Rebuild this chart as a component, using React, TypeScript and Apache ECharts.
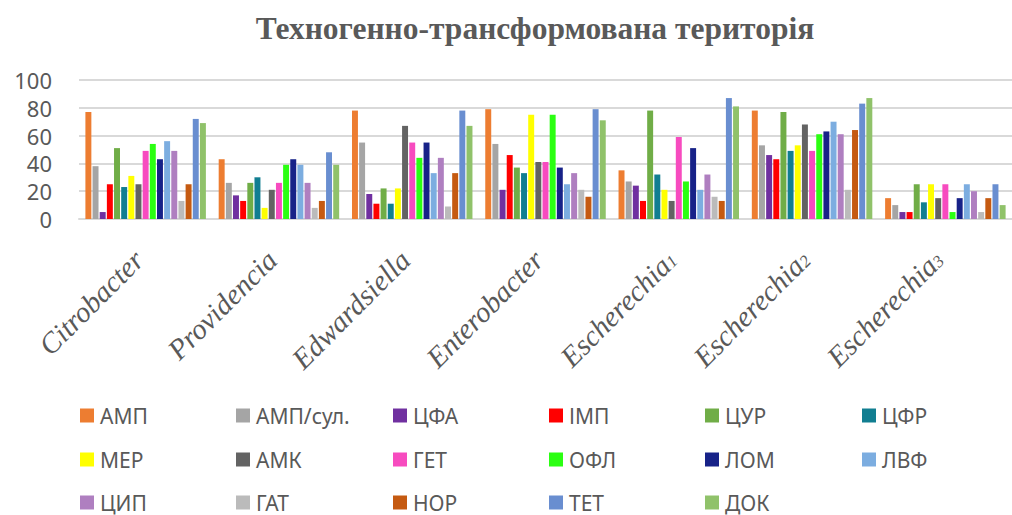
import React, { useEffect, useRef } from "react";
import * as echarts from "echarts";

const categories = [
  "Citrobacter",
  "Providencia",
  "Edwardsiella",
  "Enterobacter",
  "Escherechia1",
  "Escherechia2",
  "Escherechia3",
];

const seriesNames = [
  "АМП", "АМП/сул.", "ЦФА", "ІМП", "ЦУР", "ЦФР",
  "МЕР", "АМК", "ГЕТ", "ОФЛ", "ЛОМ", "ЛВФ",
  "ЦИП", "ГАТ", "НОР", "ТЕТ", "ДОК",
];

const seriesColors = [
  "#ED7D31", "#A5A5A5", "#7030A0", "#FF0000", "#70AD47", "#117E91",
  "#FFFF00", "#636363", "#F74BBF", "#2BFF12", "#172288", "#7CADE0",
  "#AF7FC0", "#BBBBBB", "#C55A11", "#698ED0", "#90C26A",
];

// values per antibiotic, across the 7 categories
const amp = [77, 43, 78, 79, 35, 78, 15];
const ampSul = [38, 26, 55, 54, 27, 53, 10];
const cfa = [5, 17, 18, 21, 24, 46, 5];
const imp = [25, 13, 11, 46, 13, 43, 5];
const cur = [51, 26, 22, 37, 78, 77, 25];
const cfr = [23, 30, 11, 33, 32, 49, 12];
const mer = [31, 8, 22, 75, 21, 53, 25];
const amk = [25, 21, 67, 41, 13, 68, 15];
const get = [49, 26, 55, 41, 59, 49, 25];
const ofl = [54, 39, 44, 75, 27, 61, 5];
const lom = [43, 43, 55, 37, 51, 63, 15];
const lvf = [56, 39, 33, 25, 21, 70, 25];
const cip = [49, 26, 44, 33, 32, 61, 20];
const gat = [13, 8, 9, 21, 16, 21, 5];
const nor = [25, 13, 33, 16, 13, 64, 15];
const tet = [72, 48, 78, 79, 87, 83, 25];
const dok = [69, 39, 67, 71, 81, 87, 10];

const seriesValues = [amp, ampSul, cfa, imp, cur, cfr, mer, amk, get, ofl, lom, lvf, cip, gat, nor, tet, dok];

const yTicks = [0, 20, 40, 60, 80, 100];

export default function App() {
  const ref = useRef<HTMLDivElement>(null);
  useEffect(() => {
    if (!ref.current) return;
    const chart = echarts.init(ref.current, null, { renderer: "svg" });
    const colX = [80, 236, 393, 549, 705, 862];
    const rowY = [417, 461, 504];
    const legends = seriesNames.map((name, i) => ({
      data: [name],
      left: colX[i % 6],
      top: rowY[Math.floor(i / 6)] - 12,
      icon: "rect",
      itemWidth: 14,
      itemHeight: 14,
      itemGap: 0,
      padding: 0,
      textStyle: { fontFamily: "Noto Sans", fontSize: 21, color: "#595959", padding: [0, 0, 0, 1] },
    }));
    chart.setOption({
      animation: false,
      backgroundColor: "#ffffff",
      title: {
        text: "Техногенно-трансформована територія",
        left: 530,
        top: 7,
        textAlign: "center",
        textStyle: { fontFamily: "Liberation Serif", fontWeight: "bold", fontSize: 31.5, color: "#595959" },
      },
      legend: legends,
      grid: { left: 79, right: -12, top: 80, bottom: 296, containLabel: false },
      xAxis: {
        type: "category",
        data: categories,
        axisTick: { show: false },
        axisLine: { lineStyle: { color: "#D9D9D9", width: 2 } },
        axisLabel: {
          rotate: 45,
          interval: 0,
          margin: 29,
          padding: [0, 10, 0, 0],
          fontFamily: "Liberation Serif",
          fontStyle: "italic",
          fontSize: 29,
          color: "#595959",
          formatter: (v: string) => {
            const m = v.match(/^(.*?)(\d+)$/);
            return m ? `{a|${m[1]}}{s|${m[2]}}` : `{a|${v}}`;
          },
          rich: {
            a: { fontFamily: "Liberation Serif", fontStyle: "italic", fontSize: 29, color: "#595959" },
            s: { fontFamily: "Liberation Serif", fontSize: 17, color: "#595959", padding: [9, 0, 0, 0] },
          },
        },
      },
      yAxis: {
        type: "value",
        min: yTicks[0],
        max: yTicks[yTicks.length - 1],
        interval: 20,
        axisLine: { show: false },
        axisTick: { show: false },
        splitLine: { lineStyle: { color: "#D9D9D9", width: 2 } },
        axisLabel: { fontFamily: "Noto Sans", fontSize: 22, color: "#595959", margin: 27 },
      },
      series: seriesNames.map((name, i) => ({
        name,
        type: "bar",
        data: seriesValues[i],
        barGap: "20%",
        barCategoryGap: "9.6%",
        itemStyle: { color: seriesColors[i] },
      })),
    });
    return () => chart.dispose();
  }, []);
  return <div ref={ref} style={{ position: "fixed", left: 0, top: 0, width: 1012, height: 515 }} />;
}
